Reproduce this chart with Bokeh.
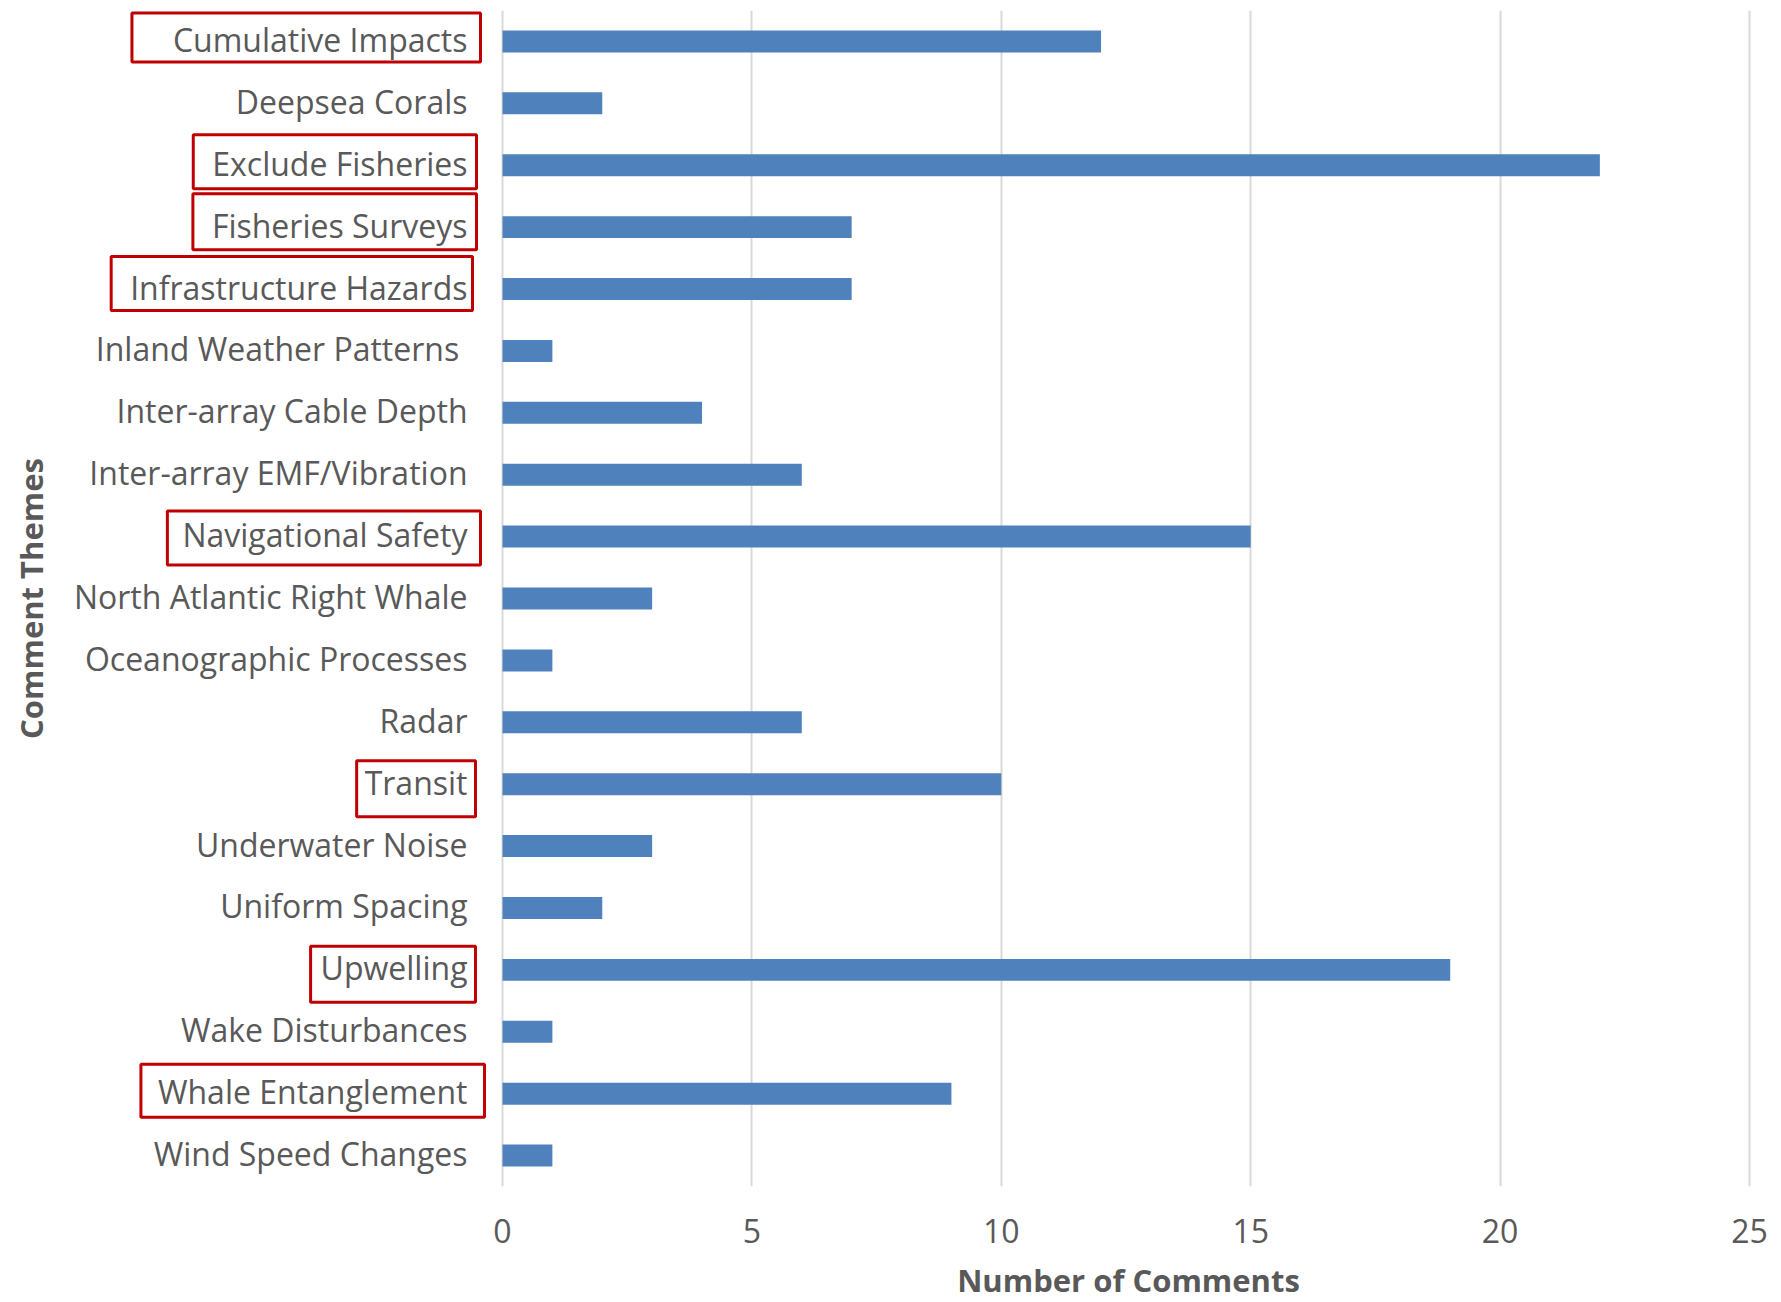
from bokeh.plotting import figure
from bokeh.layouts import row
from bokeh.models import FactorRange, FixedTicker, ColumnDataSource
from bokeh.core.properties import value
from bokeh.embed import file_html
from bokeh.resources import INLINE
import math

categories = [
    "Cumulative Impacts", "Deepsea Corals", "Exclude Fisheries", "Fisheries Surveys",
    "Infrastructure Hazards", "Inland Weather Patterns ", "Inter-array Cable Depth",
    "Inter-array EMF/Vibration", "Navigational Safety", "North Atlantic Right Whale",
    "Oceanographic Processes", "Radar", "Transit", "Underwater Noise", "Uniform Spacing",
    "Upwelling", "Wake Disturbances", "Whale Entanglement", "Wind Speed Changes",
]
counts = [12, 2, 22, 7, 7, 1, 4, 6, 15, 3, 1, 6, 10, 3, 2, 19, 1, 9, 1]
x_ticks = [0, 5, 10, 15, 20, 25]

# highlighted (boxed) themes: box padding left, right, top, bottom (px)
highlighted = {
    "Cumulative Impacts": (41, 13, 5, 1),
    "Exclude Fisheries": (19, 9, 7, 4),
    "Fisheries Surveys": (19, 9, 10, 3),
    "Infrastructure Hazards": (19, 5, 9, 2),
    "Navigational Safety": (15, 13, 2, 9),
    "Transit": (8, 8, 0, 13),
    "Upwelling": (10, 8, 0, 13),
    "Whale Entanglement": (17, 17, 6, 4),
}

FONT = "Open Sans"
GREY = "#595959"
BAR = "#4F81BD"
RED = "#C00000"

# layout (pixels)
LEFT_W = 486           # width of the label panel
RIGHT_FRAME_W = 1284   # width of the bar panel's frame
FRAME_H = 1176
TOP = 10
ZERO_OFFSET = 16       # px from the bar panel's left edge to value 0
PX_PER_UNIT = 49.88
TEXT_DY = -2

y_range = FactorRange(factors=list(reversed(categories)))

# ---- label panel ----
lp = figure(
    y_range=y_range, x_range=(0, LEFT_W),
    frame_width=LEFT_W, frame_height=FRAME_H,
    output_backend="svg", toolbar_location=None,
    x_axis_location=None, y_axis_location=None,
    min_border_left=0, min_border_right=0, min_border_top=TOP, min_border_bottom=0,
)
lp.outline_line_color = None
lp.xgrid.grid_line_color = None
lp.ygrid.grid_line_color = None

label_x = LEFT_W - 19
plain = [c for c in categories if c not in highlighted]
lp.text(x=[label_x] * len(plain), y=plain, text=plain,
        text_align="right", text_baseline="middle", y_offset=TEXT_DY,
        text_font=value(FONT), text_font_size="32px", text_color=GREY)

for cat, (pl, pr, pt, pb) in highlighted.items():
    lp.text(x=[label_x + pr], y=[cat], text=[cat],
            text_align="right", text_baseline="middle",
            y_offset=TEXT_DY - (pt - pb) / 2,
            text_font=value(FONT), text_font_size="32px", text_color=GREY,
            border_line_color=RED, border_line_width=3,
            padding=dict(left=pl, right=pr, top=pt, bottom=pb))

lp.text(x=[30], y=[categories[9]], text=["Comment Themes"],
        angle=math.pi / 2, text_align="center", text_baseline="middle",
        text_font=value(FONT), text_font_style="bold", text_font_size="31px",
        text_color=GREY)

# ---- bar panel ----
x_start = -ZERO_OFFSET / PX_PER_UNIT
x_end = x_start + RIGHT_FRAME_W / PX_PER_UNIT
p = figure(
    y_range=y_range, x_range=(x_start, x_end),
    frame_width=RIGHT_FRAME_W, frame_height=FRAME_H,
    output_backend="svg", toolbar_location=None,
    y_axis_location=None,
    min_border_left=0, min_border_right=0, min_border_top=TOP, min_border_bottom=0,
)
p.outline_line_color = None

src = ColumnDataSource(dict(cat=categories, val=counts))
p.hbar(y="cat", right="val", left=0, height=0.355, source=src,
       fill_color=BAR, line_color=None)

ax = p.xaxis[0]
ax.ticker = FixedTicker(ticks=x_ticks)
ax.axis_line_color = None
ax.major_tick_line_color = None
ax.minor_tick_line_color = None
ax.major_label_text_font = FONT
ax.major_label_text_font_size = "32px"
ax.major_label_text_color = GREY
ax.major_label_standoff = 26
ax.axis_label = "Number of Comments"
ax.axis_label_text_font = FONT
ax.axis_label_text_font_style = "bold"
ax.axis_label_text_font_size = "31px"
ax.axis_label_text_color = GREY
ax.axis_label_standoff = 13

p.xgrid.ticker = FixedTicker(ticks=x_ticks)
p.xgrid.grid_line_color = "#D9D9D9"
p.xgrid.grid_line_width = 2
p.ygrid.grid_line_color = None

layout = row(lp, p, spacing=0)
open("out.html", "w").write(file_html(layout, INLINE))
